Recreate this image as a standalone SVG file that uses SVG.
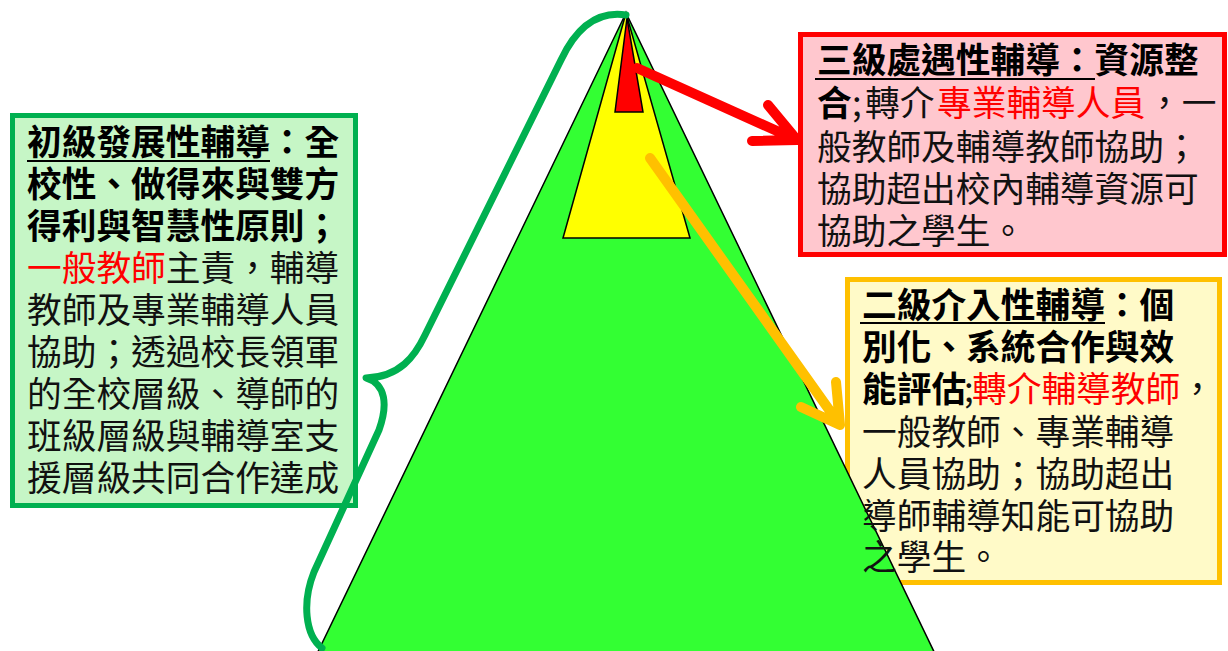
<svg xmlns="http://www.w3.org/2000/svg" width="1228" height="651" viewBox="0 0 1228 651">
<style>
text{font-family:"Noto Sans CJK TC","Noto Sans CJK SC",sans-serif;font-size:34.7px;fill:#111}
.b{font-weight:bold;fill:#000}
.r{fill:#ff0000}
.tri{stroke:#000;stroke-width:1.5;stroke-linejoin:miter}
.ul{stroke:#000;stroke-width:2}
.arrow{fill:none;stroke-width:10;stroke-linecap:round;stroke-linejoin:round}
</style>
<rect width="1228" height="651" fill="#ffffff"/>
<g id="level2-box">
<rect x="847.5" y="279.5" width="372" height="303" fill="#fffac8" stroke="#ffc000" stroke-width="5"/>
</g>
<g id="pyramid">
<polygon class="tri" points="626,13 313,662 939,662" fill="#33ff33"/>
<polygon class="tri" points="626,13 563,238 690,238" fill="#ffff00"/>
<polygon class="tri" points="627,18 615,112 643,112" fill="#ff0000"/>
</g>
<g id="level1">
<rect x="12.5" y="115.5" width="343" height="390" fill="#c6f6c6" stroke="#00b050" stroke-width="5"/>
<text x="27" y="154.5" class="b">初級發展性輔導：全</text>
<line class="ul" x1="27" y1="161" x2="270" y2="161"/>
<text x="27" y="196.6" class="b">校性、做得來與雙方</text>
<text x="27" y="238.7" class="b">得利與智慧性原則；</text>
<text x="27" y="280.8"><tspan class="r">一般教師</tspan>主責，輔導</text>
<text x="27" y="322.9">教師及專業輔導人員</text>
<text x="27" y="365">協助；透過校長領軍</text>
<text x="27" y="407.1">的全校層級、導師的</text>
<text x="27" y="449.2">班級層級與輔導室支</text>
<text x="27" y="491.3">援層級共同合作達成</text>
</g>
<g id="level3">
<rect x="800.5" y="34.5" width="424" height="220" fill="#ffc7ce" stroke="#ff0000" stroke-width="5"/>
<text x="817" y="73" class="b">三級處遇性輔導：資源整</text>
<line class="ul" x1="815" y1="79" x2="1095" y2="79"/>
<text y="116"><tspan x="817" class="b">合</tspan><tspan x="852">;</tspan><tspan x="865">轉介</tspan><tspan x="937" class="r">專業輔導人員</tspan><tspan x="1147">，一</tspan></text>
<text x="817" y="159.5">般教師及輔導教師協助；</text>
<text x="817" y="201.5">協助超出校內輔導資源可</text>
<text x="817" y="244">協助之學生。</text>
</g>
<g id="connectors">
<path class="arrow" stroke="#ff0000" d="M637,68 L797,140 M768,105 L797,140 L752,141"/>
<path class="arrow" stroke="#ffc000" d="M650,158 L840,425 M836,382 L840,425 L801,407"/>
<path fill="none" stroke="#00b050" stroke-width="7" stroke-linecap="round" stroke-linejoin="round" d="M626,15 C600,11 578,24 561,60 L425,335 C415,356 400,377 366,378 C386,384 388,405 379,430 L314,572 C302,602 305,635 322,648"/>
</g>
<g id="level2">
<text x="862" y="318" class="b">二級介入性輔導：個</text>
<line class="ul" x1="860" y1="323" x2="1105" y2="323"/>
<text x="862" y="360" class="b">別化、系統合作與效</text>
<text y="402"><tspan x="862" class="b">能評估</tspan><tspan x="964">;</tspan><tspan x="972" class="r">轉介輔導教師</tspan><tspan x="1180">，</tspan></text>
<text x="862" y="444.5">一般教師、專業輔導</text>
<text x="862" y="486.5">人員協助；協助超出</text>
<text x="862" y="528.5">導師輔導知能可協助</text>
<text x="862" y="570">之學生。</text>
</g>
</svg>
